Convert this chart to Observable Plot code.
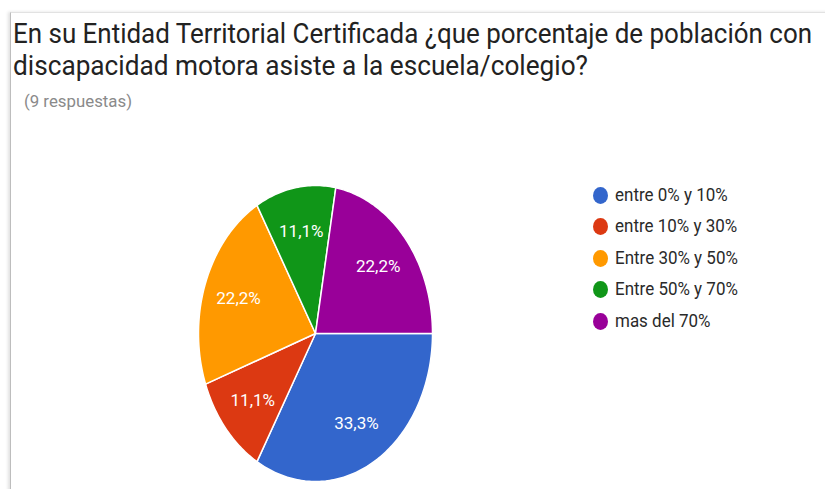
<!DOCTYPE html>
<html><head><meta charset="utf-8">
<script src="https://cdn.jsdelivr.net/npm/d3@7"></script>
<script src="https://cdn.jsdelivr.net/npm/@observablehq/plot@0.6"></script>
<style>
html,body{margin:0;padding:0;background:#fff;}
body{width:825px;height:489px;overflow:hidden;position:relative;font-family:Roboto,"Noto Sans",sans-serif;}
.frame{position:absolute;left:10px;top:12px;width:830px;height:500px;border-left:1px solid #bdbdbd;border-top:1px solid #e2e2e2;box-shadow:-2px 0 3px rgba(0,0,0,0.12);}
.fit{position:absolute;white-space:nowrap;transform-origin:0 0;line-height:1;}
#chart{position:absolute;left:0;top:130px;}
.leg{position:absolute;left:0;top:0;}
.sw{position:absolute;width:15px;height:17px;border-radius:50%;}
</style></head><body>
<div class="frame"></div>
<div id="t1" class="fit" data-w="799" style="left:13px;top:19.5px;font-size:28px;color:#222;"></div>
<div id="t2" class="fit" data-w="575" style="left:13px;top:52px;font-size:28px;color:#222;"></div>
<div id="sub" class="fit" data-w="108" style="left:24px;top:93px;font-size:17px;color:#8a8a8a;"></div>
<div id="chart"></div>
<div id="legend" class="leg"></div>
<script>
const titleLines = ["En su Entidad Territorial Certificada ¿que porcentaje de población con", "discapacidad motora asiste a la escuela/colegio?"];
const subtitle = "(9 respuestas)";
const categories = ["entre 0% y 10%", "entre 10% y 30%", "Entre 30% y 50%", "Entre 50% y 70%", "mas del 70%"];
const counts = [3, 1, 2, 1, 2];
const pctLabels = ["33,3%", "11,1%", "22,2%", "11,1%", "22,2%"];
const colors = ["#3366cc", "#dc3912", "#ff9900", "#109618", "#990099"];

document.getElementById("t1").textContent = titleLines[0];
document.getElementById("t2").textContent = titleLines[1];
document.getElementById("sub").textContent = subtitle;

// pie geometry from data (clockwise, starting at 3 o'clock)
const arcs = d3.pie().sort(null).startAngle(Math.PI / 2).endAngle(Math.PI / 2 + 2 * Math.PI)(counts);
const rows = [];
arcs.forEach((a, i) => {
  rows.push({cat: categories[i], x: 0, y: 0});
  const n = Math.max(2, Math.ceil((a.endAngle - a.startAngle) / (Math.PI / 180)));
  for (let k = 0; k <= n; k++) {
    const t = a.startAngle + (a.endAngle - a.startAngle) * k / n;
    rows.push({cat: categories[i], x: Math.sin(t), y: Math.cos(t)});
  }
});
const labelRows = arcs.map((a, i) => {
  const m = (a.startAngle + a.endAngle) / 2;
  return {text: pctLabels[i], x: 0.7 * Math.sin(m), y: 0.7 * Math.cos(m)};
});

const chart = Plot.plot({
  width: 825,
  height: 359,
  margin: 0,
  style: {background: "transparent", fontFamily: "Roboto, 'Noto Sans', sans-serif"},
  x: {domain: [-1, 1], range: [198, 432], axis: null},
  y: {domain: [-1, 1], range: [351, 55], axis: null},
  color: {domain: categories, range: colors},
  marks: [
    Plot.line(rows, {x: "x", y: "y", z: "cat", fill: "cat", stroke: "white", strokeWidth: 1.5, curve: "linear-closed"}),
    Plot.text(labelRows, {x: "x", y: "y", text: "text", fill: "white", fontSize: 17})
  ]
});
document.getElementById("chart").appendChild(chart);

// legend
const leg = document.getElementById("legend");
const legY = [195, 226.5, 258, 289.5, 321];
categories.forEach((c, i) => {
  const sw = document.createElement("div");
  sw.className = "sw";
  sw.style.left = "593px";
  sw.style.top = (legY[i] - 8.5) + "px";
  sw.style.background = colors[i];
  leg.appendChild(sw);
  const tx = document.createElement("div");
  tx.className = "fit";
  tx.textContent = c;
  tx.style.left = "615px";
  tx.style.top = (legY[i] - 8.5) + "px";
  tx.style.fontSize = "17.5px";
  tx.style.color = "#2a2a2a";
  tx.dataset.scale = "0.97";
  leg.appendChild(tx);
});

document.querySelectorAll(".fit").forEach(el => {
  const w = el.getBoundingClientRect().width;
  let s = el.dataset.w ? (+el.dataset.w / w) : (+el.dataset.scale || 1);
  el.style.transform = `scaleX(${s})`;
});
</script>
</body></html>
